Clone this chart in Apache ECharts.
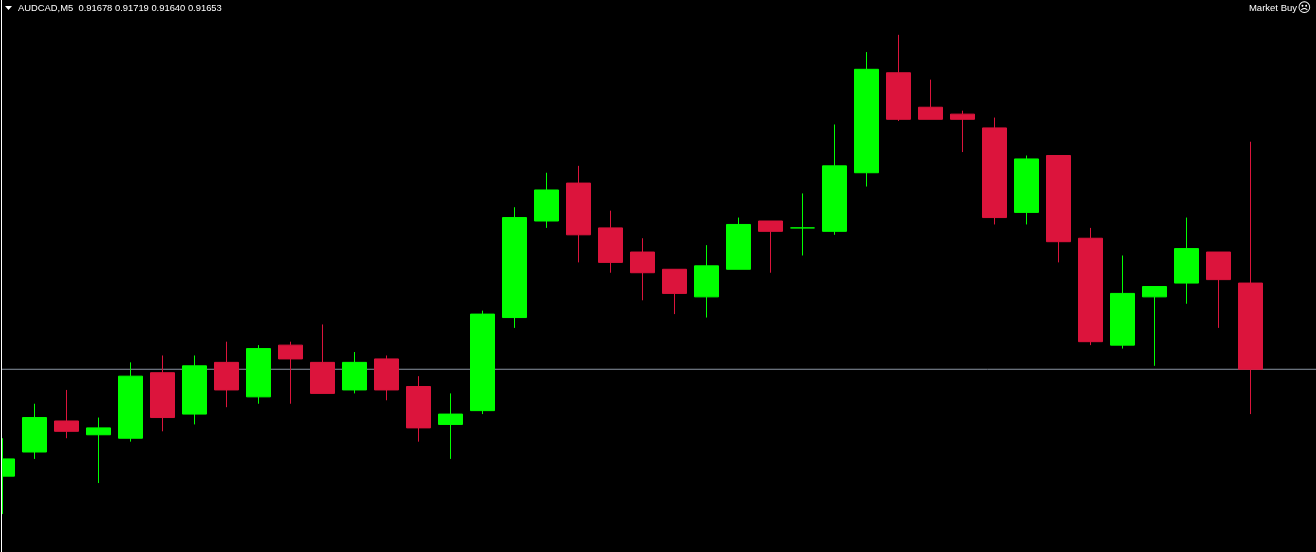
<!DOCTYPE html>
<html><head><meta charset="utf-8">
<style>html,body{margin:0;padding:0;background:#000}#c{width:1316px;height:552px}</style>
<script src="https://cdn.jsdelivr.net/npm/echarts@6/dist/echarts.min.js"></script>
</head><body><div id="c"></div>
<script>
const symbol = 'AUDCAD,M5';
const ohlcHeader = ['0.91678','0.91719','0.91640','0.91653'];
const signalText = 'Market Buy';
const lastPrice = 0.91653;
const opens  = [0.91622,0.91629,0.91638,0.91634,0.91633,0.91652,0.91640,0.91655,0.91645,0.91660,0.91655,0.91647,0.91656,0.91648,0.91637,0.91641,0.91668,0.91696,0.91707,0.91694,0.91687,0.91682,0.91674,0.91682,0.91696,0.91694,0.91693,0.91710,0.91739,0.91729,0.91727,0.91723,0.916985,0.91715,0.91691,0.91660,0.91674,0.91678,0.91687,0.91678];
const closes = [0.91627,0.91639,0.91635,0.91636,0.91651,0.91639,0.91654,0.91647,0.91659,0.91656,0.91646,0.91655,0.91647,0.91636,0.91640,0.91669,0.91697,0.91705,0.91692,0.91684,0.91681,0.91675,0.91683,0.91695,0.91693,0.91694,0.91712,0.91740,0.917255,0.917255,0.917255,0.91697,0.91714,0.91690,0.91661,0.91675,0.91677,0.91688,0.91679,0.91653];
const lows   = [0.91611,0.91627,0.91633,0.91620,0.91632,0.91635,0.91637,0.91642,0.91643,0.91643,0.91646,0.91646,0.91644,0.91632,0.91627,0.91640,0.91665,0.91694,0.91684,0.91681,0.91673,0.91669,0.91668,0.91682,0.91681,0.91686,0.91692,0.91706,0.91725,0.917255,0.91716,0.91695,0.91695,0.91684,0.91660,0.91659,0.91654,0.91672,0.91665,0.91640];
const highs  = [0.91633,0.91643,0.91647,0.91639,0.91655,0.91657,0.91657,0.91661,0.91660,0.91661,0.91666,0.91658,0.91657,0.91651,0.91646,0.91670,0.91700,0.91710,0.91712,0.91699,0.91691,0.91682,0.91689,0.91697,0.91696,0.91704,0.91724,0.91745,0.91750,0.91737,0.91728,0.91726,0.91715,0.91715,0.91694,0.91686,0.91677,0.91697,0.91687,0.91719];
const xMin = -0.015625, xMax = 41.046875;
const GREEN = '#00ff00', RED = '#dc143c';
const FONT = '"Liberation Sans",Arial,sans-serif';
const chart = echarts.init(document.getElementById('c'), null, {renderer:'canvas'});
const candles = opens.map((o,i)=>[i,o,closes[i],lows[i],highs[i]]);
chart.setOption({
  animation:false,
  backgroundColor:'#000',
  grid:{left:2,top:0.35,right:0,bottom:-0.35,containLabel:false},
  xAxis:{type:'value',min:xMin,max:xMax,show:false,splitLine:{show:false}},
  yAxis:{type:'value',min:0.916,max:0.9176,position:'left',
    axisLine:{show:false},
    axisTick:{show:false},axisLabel:{show:false},splitLine:{show:false}},
  title:[
    {text:symbol+'  '+ohlcHeader.join(' '),left:18,top:3.5,padding:0,textStyle:{color:'#fff',fontSize:9.4,fontWeight:'normal',fontFamily:FONT}},
    {text:signalText,right:19,top:3.5,padding:0,textStyle:{color:'#fff',fontSize:9.5,fontWeight:'normal',fontFamily:FONT}},
    {text:'\u2639',right:5,top:2,padding:0,textStyle:{color:'#fff',fontSize:13,fontWeight:'normal',fontFamily:'"DejaVu Sans",sans-serif'}}
  ],
  graphic:[
    {type:'polygon',z:100,shape:{points:[[5,6],[12,6],[8.5,10]]},style:{fill:'#fff'}},
    {type:'rect',z:100,shape:{x:0,y:0,width:1,height:552},style:{fill:'#000'}},
    {type:'rect',z:100,shape:{x:1,y:0,width:1,height:552},style:{fill:'#fff'}}
  ],
  series:[
  {
    type:'line',
    data:[[xMin,lastPrice],[xMax,lastPrice]],
    showSymbol:false,
    silent:true,
    z:1,
    lineStyle:{color:'#8a94a3',width:1,type:'solid'}
  },
  {
    type:'candlestick',
    barWidth:24,
    encode:{x:0,y:[1,2,3,4]},
    itemStyle:{color:GREEN,color0:RED,borderColor:GREEN,borderColor0:RED,borderColorDoji:GREEN,borderWidth:1,borderJoin:'miter'},
    data:candles,
    z:3
  }]
});
</script></body></html>
